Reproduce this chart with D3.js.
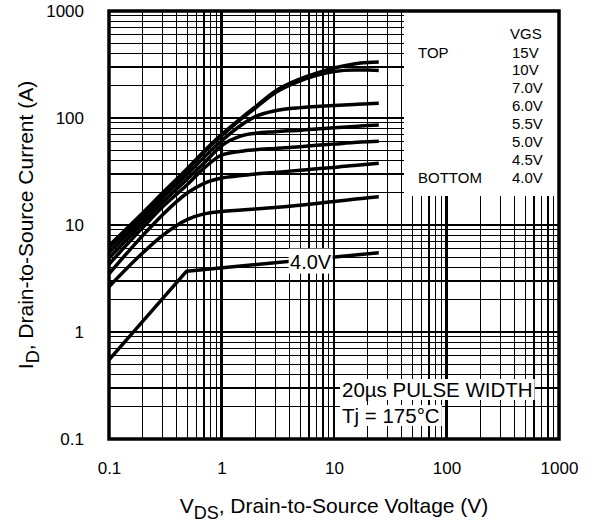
<!DOCTYPE html>
<html lang="en">
	<head>
		<meta charset="utf-8">
		<title>Typical Output Characteristics</title>
		<script src="https://d3js.org/d3.v7.min.js"></script>
		<style type="text/css">
			body {
				margin: 0;
				background: #fff;
			}
			svg {
				font-family: "Liberation Sans", Arial, Helvetica, sans-serif;
			}
			.grid line {
				stroke: #000;
				shape-rendering: crispEdges;
			}
			.curve {
				fill: none;
				stroke: #000;
				stroke-width: 3.5px;
				stroke-linejoin: round;
			}
		</style>
	</head>
	<body>
		<script type="text/javascript">

			//Data
			var vgsLabels = ["15V", "10V", "7.0V", "6.0V", "5.5V", "5.0V", "4.5V", "4.0V"];
			var vdsPts = [0.1, 0.2, 0.3, 0.5, 0.7, 1, 1.5, 2, 3, 5, 7, 10, 15, 20, 25];
			var id15 = [6.4, 13, 20, 34, 49, 70, 100, 127, 178, 232, 262, 293, 320, 330, 333];
			var id10 = [6.1, 12.5, 19.5, 33, 48, 68, 98, 124, 172, 222, 250, 272, 281, 281, 278];
			var id70 = [5.5, 11.5, 18, 30, 43, 61, 86, 103, 117, 125, 128, 131, 134, 136, 137];
			var id60 = [4.9, 10.5, 16.3, 27, 38, 55, 68, 72, 74.5, 77, 79, 81, 83.5, 85, 86];
			var id55 = [4.3, 9.5, 14.8, 24, 34, 45, 49, 50.5, 52, 54, 55.5, 57, 59, 60, 60.5];
			var id50 = [3.5, 8, 12.5, 20, 24.5, 27.5, 29, 30, 31, 32.5, 33.5, 34.5, 36, 37, 37.7];
			var id45 = [2.65, 5.5, 8, 11.3, 12.7, 13.4, 13.8, 14.1, 14.6, 15.3, 15.9, 16.6, 17.4, 18, 18.4];
			//4.0V curve has a sharp knee
			var vds40 = [0.1, 0.49, 25];
			var id40 = [0.55, 3.7, 5.5];

			var xTicks = [0.1, 1, 10, 100, 1000];
			var yTicks = [0.1, 1, 10, 100, 1000];
			var notes = ["20\u00b5s PULSE WIDTH", "Tj = 175\u00b0C"];

			//Width and height
			var w = 595;
			var h = 526;
			var pLeft = 109, pRight = 559, pTop = 11, pBottom = 439;

			var x = d3.scaleLog().domain([0.1, 1000]).range([pLeft, pRight]);
			var y = d3.scaleLog().domain([0.1, 1000]).range([pBottom, pTop]);

			var svg = d3.select("body")
						.append("svg")
						.attr("width", w)
						.attr("height", h);

			//Grid: every 1..9 per decade, decades thicker
			var isDecade = function(v) { return Math.abs(Math.log10(v) - Math.round(Math.log10(v))) < 1e-6; };

			var grid = svg.append("g").attr("class", "grid");

			grid.selectAll(".vx")
				.data(x.ticks())
				.enter()
				.append("line")
				.attr("x1", function(d) { return x(d); })
				.attr("x2", function(d) { return x(d); })
				.attr("y1", pTop)
				.attr("y2", pBottom)
				.style("stroke-width", function(d) { return isDecade(d) ? 2.5 : 1.2; });

			grid.selectAll(".hy")
				.data(y.ticks())
				.enter()
				.append("line")
				.attr("x1", pLeft)
				.attr("x2", pRight)
				.attr("y1", function(d) { return y(d); })
				.attr("y2", function(d) { return y(d); })
				.style("stroke-width", function(d) { return isDecade(d) ? 2.5 : 1.2; });

			//Legend box hides the grid
			svg.append("rect")
				.attr("x", 404)
				.attr("y", pTop)
				.attr("width", pRight - 404)
				.attr("height", 196 - pTop)
				.attr("fill", "#fff");

			//Curves
			var line = d3.line()
						.x(function(d) { return x(d[0]); })
						.y(function(d) { return y(d[1]); })
						.curve(d3.curveMonotoneX);

			var series = [id15, id10, id70, id60, id55, id50, id45];

			svg.selectAll(".curve")
				.data(series)
				.enter()
				.append("path")
				.attr("class", "curve")
				.attr("d", function(s) {
					return line(vdsPts.map(function(v, i) { return [v, s[i]]; }));
				});

			svg.append("path")
				.attr("class", "curve")
				.attr("d", line.curve(d3.curveLinear)(vds40.map(function(v, i) { return [v, id40[i]]; })));

			//"4.0V" tag on the bottom curve
			var tagX = x(6.2), tagY = y(4.6);
			svg.append("rect")
				.attr("x", tagX - 22)
				.attr("y", tagY - 12.5)
				.attr("width", 44)
				.attr("height", 25)
				.attr("fill", "#fff");
			svg.append("text")
				.attr("x", tagX)
				.attr("y", tagY + 7.5)
				.attr("text-anchor", "middle")
				.style("font-size", "20px")
				.text("4.0V");

			//Pulse width note
			var noteG = svg.append("g");
			noteG.selectAll("text")
				.data(notes)
				.enter()
				.append("text")
				.attr("x", 342)
				.attr("y", function(d, i) { return 397 + i * 26; })
				.style("font-size", "20.5px")
				.text(function(d) { return d; })
				.each(function() {
					var b = this.getBBox();
					noteG.insert("rect", "text")
						.attr("x", b.x - 2)
						.attr("y", b.y + 1)
						.attr("width", b.width + 4)
						.attr("height", b.height - 2)
						.attr("fill", "#fff");
				});

			//Legend
			var lg = svg.append("g").style("font-size", "15px");
			lg.append("text").attr("x", 510).attr("y", 38.5).text("VGS");
			lg.append("text").attr("x", 418).attr("y", 57.5).text("TOP");
			lg.append("text").attr("x", 418).attr("y", 57.5 + 7 * 17.9).text("BOTTOM");
			lg.selectAll(".vg")
				.data(vgsLabels)
				.enter()
				.append("text")
				.attr("x", 512)
				.attr("y", function(d, i) { return 57.5 + i * 17.9; })
				.text(function(d) { return d; });

			//Frame
			svg.append("rect")
				.attr("x", pLeft)
				.attr("y", pTop)
				.attr("width", pRight - pLeft)
				.attr("height", pBottom - pTop)
				.attr("fill", "none")
				.attr("stroke", "#000")
				.attr("stroke-width", 3.5);

			//Axes (labels only)
			var fmt = function(d) { return d < 1 ? "0.1" : String(d); };

			var xAxis = svg.append("g")
				.attr("transform", "translate(0," + (pBottom + 20) + ")")
				.call(d3.axisBottom(x).tickValues(xTicks).tickFormat(fmt).tickSize(0));
			var yAxis = svg.append("g")
				.attr("transform", "translate(" + (pLeft - 22) + ",0)")
				.call(d3.axisLeft(y).tickValues(yTicks).tickFormat(fmt).tickSize(0));

			[xAxis, yAxis].forEach(function(a) {
				a.select(".domain").remove();
				a.selectAll("text")
					.style("font-size", "17px")
					.style("font-family", "\"Liberation Sans\", Arial, sans-serif")
					.attr("fill", "#000");
			});

			//Axis titles
			var xt = svg.append("text")
				.attr("x", (pLeft + pRight) / 2)
				.attr("y", 513)
				.attr("text-anchor", "middle")
				.style("font-size", "21px");
			xt.append("tspan").text("V");
			xt.append("tspan").attr("dy", 6).style("font-size", "18px").text("DS");
			xt.append("tspan").attr("dy", -6).text(", Drain-to-Source Voltage (V)");

			var yt = svg.append("text")
				.attr("transform", "translate(33," + ((pTop + pBottom) / 2) + ")rotate(-90)")
				.attr("text-anchor", "middle")
				.style("font-size", "21px");
			yt.append("tspan").text("I");
			yt.append("tspan").attr("dy", 6).style("font-size", "18px").text("D");
			yt.append("tspan").attr("dy", -6).text(", Drain-to-Source Current (A)");

		</script>
	</body>
</html>
